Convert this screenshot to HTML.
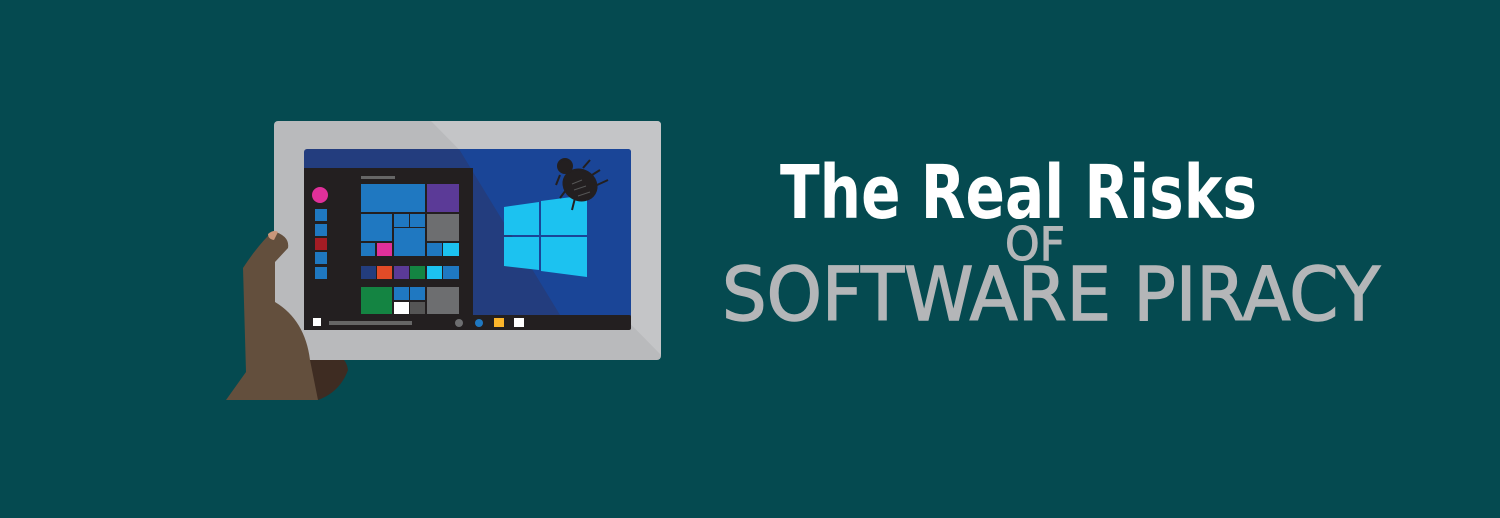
<!DOCTYPE html>
<html><head><meta charset="utf-8"><style>
html,body{margin:0;padding:0;background:#054a50;}
svg{display:block;}
</style></head><body>
<svg width="1500" height="518" viewBox="0 0 1500 518" xmlns="http://www.w3.org/2000/svg">
<rect width="1500" height="518" fill="#054a50"/>
<path d="M300 355 Q345 345 348 370 Q340 392 318 400 L300 400 Z" fill="#3e2c22"/>
<rect x="274" y="121" width="387" height="239" rx="4" fill="#b9babc"/>
<path d="M431 121 L657 121 Q661 121 661 125 L661 355 Z" fill="#c4c5c7"/>
<rect x="304" y="149" width="327" height="181" rx="3" fill="#233d7e"/>
<path d="M459 149 L628 149 Q631 149 631 152 L631 315 L560 315 Z" fill="#1a4597"/>
<rect x="304" y="168" width="169" height="162" fill="#231f20"/>
<rect x="304" y="315" width="327" height="15" rx="2" fill="#231f20"/>
<rect x="361" y="176" width="34" height="3" fill="#666"/>
<circle cx="320" cy="195" r="8" fill="#e0309a"/>
<rect x="315" y="209" width="12" height="12" fill="#1f78c1"/>
<rect x="315" y="224" width="12" height="12" fill="#1f78c1"/>
<rect x="315" y="238" width="12" height="12" fill="#a41c24"/>
<rect x="315" y="252" width="12" height="12" fill="#1f78c1"/>
<rect x="315" y="267" width="12" height="12" fill="#1f78c1"/>
<g fill="#1f78c1">
<rect x="361" y="184" width="64" height="28"/>
<rect x="361" y="214" width="31" height="27"/>
<rect x="394" y="214" width="15" height="13"/>
<rect x="410" y="214" width="15" height="13"/>
<rect x="394" y="228" width="31" height="28"/>
<rect x="361" y="243" width="14" height="13"/>
<rect x="427" y="243" width="15" height="13"/>
<rect x="443" y="266" width="16" height="13"/>
<rect x="394" y="287" width="15" height="13"/>
<rect x="410" y="287" width="15" height="13"/>
</g>
<rect x="427" y="184" width="32" height="28" fill="#5b3a97"/>
<rect x="427" y="214" width="32" height="27" fill="#6d6e70"/>
<rect x="377" y="243" width="15" height="13" fill="#e0309a"/>
<rect x="443" y="243" width="16" height="13" fill="#1cc2f0"/>
<rect x="361" y="266" width="15" height="13" fill="#233d7e"/>
<rect x="377" y="266" width="15" height="13" fill="#e24b27"/>
<rect x="394" y="266" width="15" height="13" fill="#5b3a97"/>
<rect x="410" y="266" width="15" height="13" fill="#148442"/>
<rect x="427" y="266" width="15" height="13" fill="#1cc2f0"/>
<rect x="361" y="287" width="31" height="27" fill="#148442"/>
<rect x="394" y="302" width="15" height="12" fill="#fff"/>
<rect x="410" y="302" width="15" height="12" fill="#555"/>
<rect x="427" y="287" width="32" height="27" fill="#6d6e70"/>
<rect x="313" y="318" width="8" height="8" fill="#fff"/>
<rect x="329" y="321" width="83" height="4" fill="#666"/>
<circle cx="459" cy="323" r="4" fill="#6d6e70"/>
<circle cx="479" cy="323" r="4" fill="#1f78c1"/>
<rect x="494" y="318" width="10" height="9" fill="#fbb52b"/>
<rect x="514" y="318" width="10" height="9" fill="#fff"/>
<g fill="#1cc2f0">
<path d="M504 207 L539 202 L539 235 L504 235 Z"/>
<path d="M541 201 L587 195 L587 235 L541 235 Z"/>
<path d="M504 237 L539 237 L539 270 L504 266 Z"/>
<path d="M541 237 L587 237 L587 277 L541 271 Z"/>
</g>
<g fill="#231f20" stroke="#231f20" stroke-width="2">
<ellipse cx="580" cy="185" rx="17" ry="15" transform="rotate(30 580 185)"/>
<circle cx="565" cy="166" r="7"/>
<line x1="560" y1="175" x2="556" y2="185" fill="none"/>
<line x1="566" y1="190" x2="560" y2="198" fill="none"/>
<line x1="575" y1="198" x2="572" y2="210" fill="none"/>
<line x1="583" y1="168" x2="590" y2="160" fill="none"/>
<line x1="592" y1="175" x2="600" y2="170" fill="none"/>
<line x1="597" y1="185" x2="608" y2="180" fill="none"/>
</g>
<path d="M572 184 L582 180 M574 190 L586 186 M578 196 L590 192" stroke="#555" stroke-width="1" fill="none"/>
<path d="M273 231 Q290 236 288 248 L275 262 L275 302 Q305 320 310 360 L318 400 L226 400 L246 372 L243 268 Q258 245 273 231 Z" fill="#634f3d"/>
<path d="M268 234 Q274 229 278 232 L274 240 Q268 239 268 234 Z" fill="#c8967a"/>
<g font-family="'DejaVu Sans','Liberation Sans',sans-serif">
<text x="780" y="218" font-size="74" font-weight="bold" fill="#ffffff" textLength="477" lengthAdjust="spacingAndGlyphs">The Real Risks</text>
<text x="1005" y="260" font-size="46" fill="#b4b6b8" textLength="60" lengthAdjust="spacingAndGlyphs" stroke="#b4b6b8" stroke-width="1">OF</text>
<text x="722" y="320" font-size="74" fill="#b4b6b8" textLength="658" lengthAdjust="spacingAndGlyphs" stroke="#b4b6b8" stroke-width="1.5">SOFTWARE PIRACY</text>
</g>
</svg>
</body></html>
